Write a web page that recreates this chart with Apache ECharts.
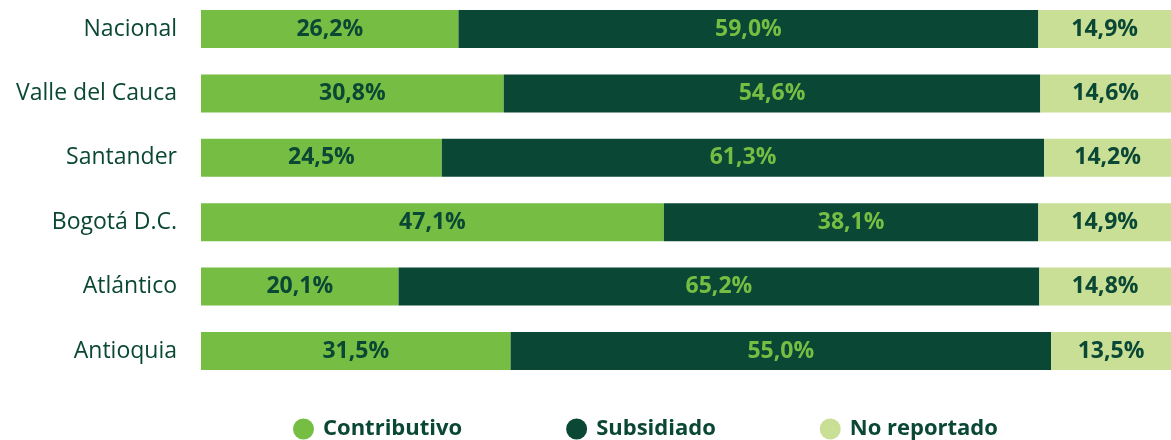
<!DOCTYPE html>
<html><head><meta charset="utf-8">
<script src="https://cdn.jsdelivr.net/npm/echarts@6/dist/echarts.min.js"></script>
<style>html,body{margin:0;padding:0;background:#fff}#c{width:1171px;height:440px}</style>
</head><body><div id="c"></div>
<script>
const categories = ['Nacional','Valle del Cauca','Santander','Bogotá D.C.','Atlántico','Antioquia'];
const contributivo = [26.2, 30.8, 24.5, 47.1, 20.1, 31.5];
const subsidiado = [59.0, 54.6, 61.3, 38.1, 65.2, 55.0];
const noReportado = [14.9, 14.6, 14.2, 14.9, 14.8, 13.5];
const seriesNames = ['Contributivo','Subsidiado','No reportado'];

const C1 = '#76BE43', C2 = '#0A4734', C3 = '#C8DF95';
const FONT = 'Open Sans';
const fmt = p => p.value.toFixed(1).replace('.', ',') + '%';
function mk(name, data, color, labelColor) {
  return {
    name, type: 'bar', stack: 't', data, barWidth: 38, clip: true,
    itemStyle: { color },
    label: { show: true, position: 'inside', formatter: fmt, color: labelColor,
      fontFamily: FONT, fontWeight: 'bold', fontSize: 23 },
    emphasis: { disabled: true }
  };
}
const chart = echarts.init(document.getElementById('c'));
chart.setOption({
  animation: false,
  grid: { left: 201, right: 0, top: 29, bottom: 89, containLabel: false },
  xAxis: { type: 'value', min: 0, max: 98.7, show: false },
  yAxis: { type: 'category', data: categories, inverse: true, boundaryGap: false,
    axisLine: { show: false }, axisTick: { show: false }, splitLine: { show: false },
    axisLabel: { color: '#0A4734', fontFamily: FONT, fontSize: 23, margin: 24 } },
  legend: { left: 288, top: 413, itemWidth: 21, itemHeight: 21, itemGap: 104, icon: 'circle',
    textStyle: { color: '#0A4734', fontFamily: FONT, fontWeight: 'bold', fontSize: 22, padding: [0,0,0,4] },
    data: seriesNames },
  series: [
    mk(seriesNames[0], contributivo, C1, '#0A4734'),
    mk(seriesNames[1], subsidiado, C2, '#76BE43'),
    mk(seriesNames[2], noReportado, C3, '#0A4734')
  ]
});
</script></body></html>
